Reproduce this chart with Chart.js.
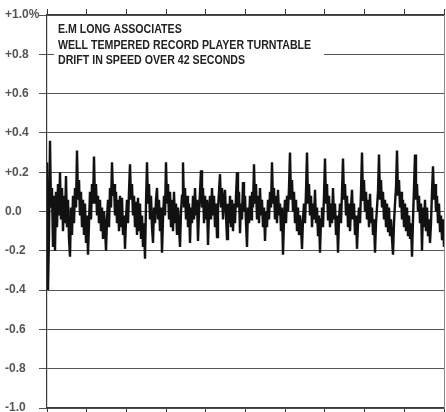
<!DOCTYPE html>
<html>
<head>
<meta charset="utf-8">
<title>Turntable speed drift</title>
<script src="https://cdn.jsdelivr.net/npm/chart.js@4.4.1/dist/chart.umd.min.js"></script>
<style>
    html, body {
        margin: 0;
        padding: 0;
        background: #fff;
    }
    #chartBox {
        width: 446px;
        height: 412px;
    }
</style>
</head>
<body>
<div id="chartBox"><canvas id="driftChart"></canvas></div>
<script>
// Speed drift (%), one value per pixel column
const speedDrift = [
    0.25, -0.40, -0.12, 0.36, 0.02, 0.12, -0.18, 0.08, -0.20, 0.10, -0.08, 0.14, -0.02, 0.20, -0.04,
    0.12, -0.10, 0.08, -0.06, 0.18, -0.08, 0.06, -0.14, -0.23, 0.02, -0.12, 0.08, -0.06, 0.12, 0.02,
    0.31, 0.06, 0.16, -0.02, 0.10, -0.08, 0.06, -0.12, 0.04, -0.16, -0.02, -0.22, -0.06, 0.10, -0.04, 0.14, 0.04,
    0.28, 0.04, 0.14, -0.02, 0.08, -0.06, 0.06, -0.10, 0.02, -0.14, 0.00, -0.08, -0.20, -0.04, 0.06, -0.08, 0.12, 0.02,
    0.25, 0.08, 0.14, -0.02, 0.10, -0.06, 0.06, -0.10, 0.08, -0.08, 0.07, -0.12, -0.02, -0.19, -0.04, 0.06, -0.06, 0.10,
    0.24, 0.06, 0.14, -0.02, 0.08, -0.08, 0.05, -0.12, 0.07, -0.10, 0.04, -0.14, -0.02, -0.18, -0.06, -0.24, 0.04,
    0.25, 0.04, 0.14, -0.04, 0.08, -0.08, -0.16, 0.02, -0.06, 0.06, 0.12, -0.04, 0.06, -0.10, 0.02, -0.21, -0.04, 0.08, -0.02,
    0.25, 0.04, 0.14, -0.04, 0.10, -0.08, 0.06, -0.10, 0.10, -0.06, 0.04, -0.12, 0.02, -0.08, -0.18, 0.00, 0.08,
    0.25, 0.02, 0.12, -0.04, 0.08, -0.08, 0.04, -0.16, 0.02, -0.06, 0.08, -0.04, 0.12, -0.02, 0.06, -0.15, 0.00, 0.10,
    0.21, 0.02, 0.12, -0.06, 0.08, -0.04, 0.06, -0.17, 0.00, 0.08, -0.04, 0.12, -0.02, 0.08, -0.08, 0.04, -0.13, 0.02, 0.10,
    0.19, 0.02, 0.12, -0.04, 0.06, 0.11, -0.02, -0.14, 0.04, -0.06, 0.08, -0.08, 0.06, -0.10, 0.04, -0.06, 0.08,
    0.20, 0.02, 0.10, -0.11, 0.04, -0.04, 0.15, 0.00, 0.08, -0.06, -0.18, 0.02, -0.06, 0.08, -0.04, 0.10, 0.02,
    0.24, 0.04, 0.14, -0.04, 0.08, -0.06, 0.12, -0.02, 0.06, -0.08, 0.02, -0.15, 0.00, -0.08, 0.06, -0.04, 0.10, 0.02,
    0.25, 0.04, 0.12, -0.04, 0.08, -0.06, 0.11, -0.02, 0.04, -0.10, 0.02, -0.22, -0.04, 0.06, -0.06, 0.08, 0.00, 0.12,
    0.30, 0.06, 0.16, 0.00, 0.10, -0.06, 0.06, -0.10, 0.02, -0.12, -0.02, -0.08, -0.19, -0.04, 0.04, -0.06, 0.10,
    0.30, 0.04, 0.14, -0.02, 0.08, -0.08, 0.04, -0.04, 0.11, -0.06, 0.02, -0.12, -0.02, -0.21, -0.04, 0.02, -0.08, 0.08,
    0.27, 0.04, 0.14, -0.04, 0.08, -0.08, 0.04, -0.06, 0.12, -0.04, 0.04, -0.12, -0.02, -0.21, -0.04, 0.04, -0.06, 0.10,
    0.27, 0.06, 0.14, -0.02, 0.08, -0.08, 0.04, -0.10, 0.02, 0.11, -0.04, 0.04, -0.12, -0.02, -0.19, -0.06, 0.02, -0.06, 0.10,
    0.30, 0.06, 0.16, 0.00, 0.10, -0.04, 0.06, -0.08, 0.09, -0.06, 0.02, -0.12, -0.04, -0.21, -0.06, 0.02, 0.10,
    0.29, 0.06, 0.16, 0.02, 0.10, -0.04, 0.06, -0.08, 0.04, -0.10, 0.02, -0.12, -0.04, -0.14, -0.22, -0.06, 0.04, 0.12,
    0.31, 0.08, 0.16, 0.02, 0.10, -0.04, 0.06, -0.08, 0.04, -0.10, 0.02, -0.12, -0.02, -0.14, -0.06, -0.23, -0.04, 0.12,
    0.29, 0.06, 0.14, 0.00, 0.08, -0.06, 0.04, -0.20, 0.02, -0.08, 0.06, -0.10, 0.02, -0.12, -0.04, -0.16, -0.06, 0.10,
    0.23, 0.06, 0.14, 0.00, 0.08, -0.06, 0.04, -0.10, -0.02, -0.14, -0.04, -0.18,
];

const durationSeconds = 42;
const xTickValues = [0, 4.2, 8.4, 12.6, 16.8, 21, 25.2, 29.4, 33.6, 37.8, 42];
const yTickValues = [-1.0, -0.8, -0.6, -0.4, -0.2, 0.0, 0.2, 0.4, 0.6, 0.8, 1.0];
const yTickLabels = ["-1.0", "-0.8", "-0.6", "-0.4", "-0.2", "0.0", "+0.2", "+0.4", "+0.6", "+0.8", "+1.0%"];
const titleLines = [
    "E.M LONG ASSOCIATES",
    "WELL TEMPERED RECORD PLAYER TURNTABLE",
    "DRIFT IN SPEED OVER 42 SECONDS",
];

const points = speedDrift.map((v, i) => ({
    x: (i * durationSeconds) / (speedDrift.length - 1),
    y: v,
}));

const axisColor = "#3a3a3a";
const labelFont = { family: "'Liberation Sans', Arial, sans-serif", size: 12, weight: "bold" };

// white caption box drawn over the grid in the top-left corner
const captionBox = {
    id: "captionBox",
    beforeDatasetsDraw(chart) {
        const ctx = chart.ctx;
        const area = chart.chartArea;
        ctx.save();
        ctx.fillStyle = "#fff";
        ctx.fillRect(area.left + 7, area.top + 4, 270, 50);
        ctx.fillStyle = "#222";
        ctx.font = "bold 12px 'Liberation Sans', Arial, sans-serif";
        ctx.textBaseline = "middle";
        titleLines.forEach((line, i) => {
            ctx.save();
            ctx.translate(area.left + 11, area.top + 15 + i * 15.5);
            ctx.scale(0.885, 1);
            ctx.fillText(line, 0, 0);
            ctx.restore();
        });
        ctx.restore();
    },
};

const ctx = document.getElementById("driftChart").getContext("2d");
new Chart(ctx, {
    type: "line",
    data: {
        datasets: [
            {
                label: "Speed drift",
                data: points,
                borderColor: "#111",
                borderWidth: 2.4,
                borderJoinStyle: "miter",
                pointRadius: 0,
                tension: 0,
            },
        ],
    },
    options: {
        animation: false,
        responsive: true,
        maintainAspectRatio: false,
        layout: {
            padding: { left: 5, right: 2, top: 0, bottom: 0 },
        },
        plugins: {
            legend: { display: false },
            tooltip: { enabled: false },
        },
        scales: {
            x: {
                type: "linear",
                position: "bottom",
                min: 0,
                max: durationSeconds,
                afterBuildTicks: (scale) => {
                    scale.ticks = xTickValues.map((v) => ({ value: v }));
                },
                afterFit: (scale) => {
                    scale.height = 4;
                },
                ticks: { display: false },
                grid: { drawOnChartArea: false, tickLength: 6, color: axisColor },
                border: { color: axisColor, width: 1.2 },
            },
            xTop: {
                type: "linear",
                position: "top",
                min: 0,
                max: durationSeconds,
                afterBuildTicks: (scale) => {
                    scale.ticks = xTickValues.map((v) => ({ value: v }));
                },
                afterFit: (scale) => {
                    scale.height = 15;
                },
                ticks: { display: false },
                grid: { drawOnChartArea: false, tickLength: 6, color: axisColor },
                border: { color: axisColor, width: 1.2 },
            },
            y: {
                min: -1,
                max: 1,
                afterBuildTicks: (scale) => {
                    scale.ticks = yTickValues.map((v) => ({ value: v }));
                },
                afterFit: (scale) => {
                    scale.width = 42;
                    // let the -1.0 label hang below the plot like the original
                    scale.paddingBottom = 0;
                    scale.paddingTop = 0;
                },
                ticks: {
                    crossAlign: "far",
                    color: "#555",
                    font: labelFont,
                    callback: (value, index) => yTickLabels[index],
                },
                grid: { color: "#555", lineWidth: 1, tickLength: 8 },
                border: { color: axisColor, width: 1.2 },
            },
            yRight: {
                position: "right",
                min: -1,
                max: 1,
                afterFit: (scale) => {
                    scale.width = 0;
                },
                ticks: { display: false },
                grid: { display: false },
                border: { color: "#888", width: 1 },
            },
        },
    },
    plugins: [captionBox],
});
</script>
</body>
</html>
